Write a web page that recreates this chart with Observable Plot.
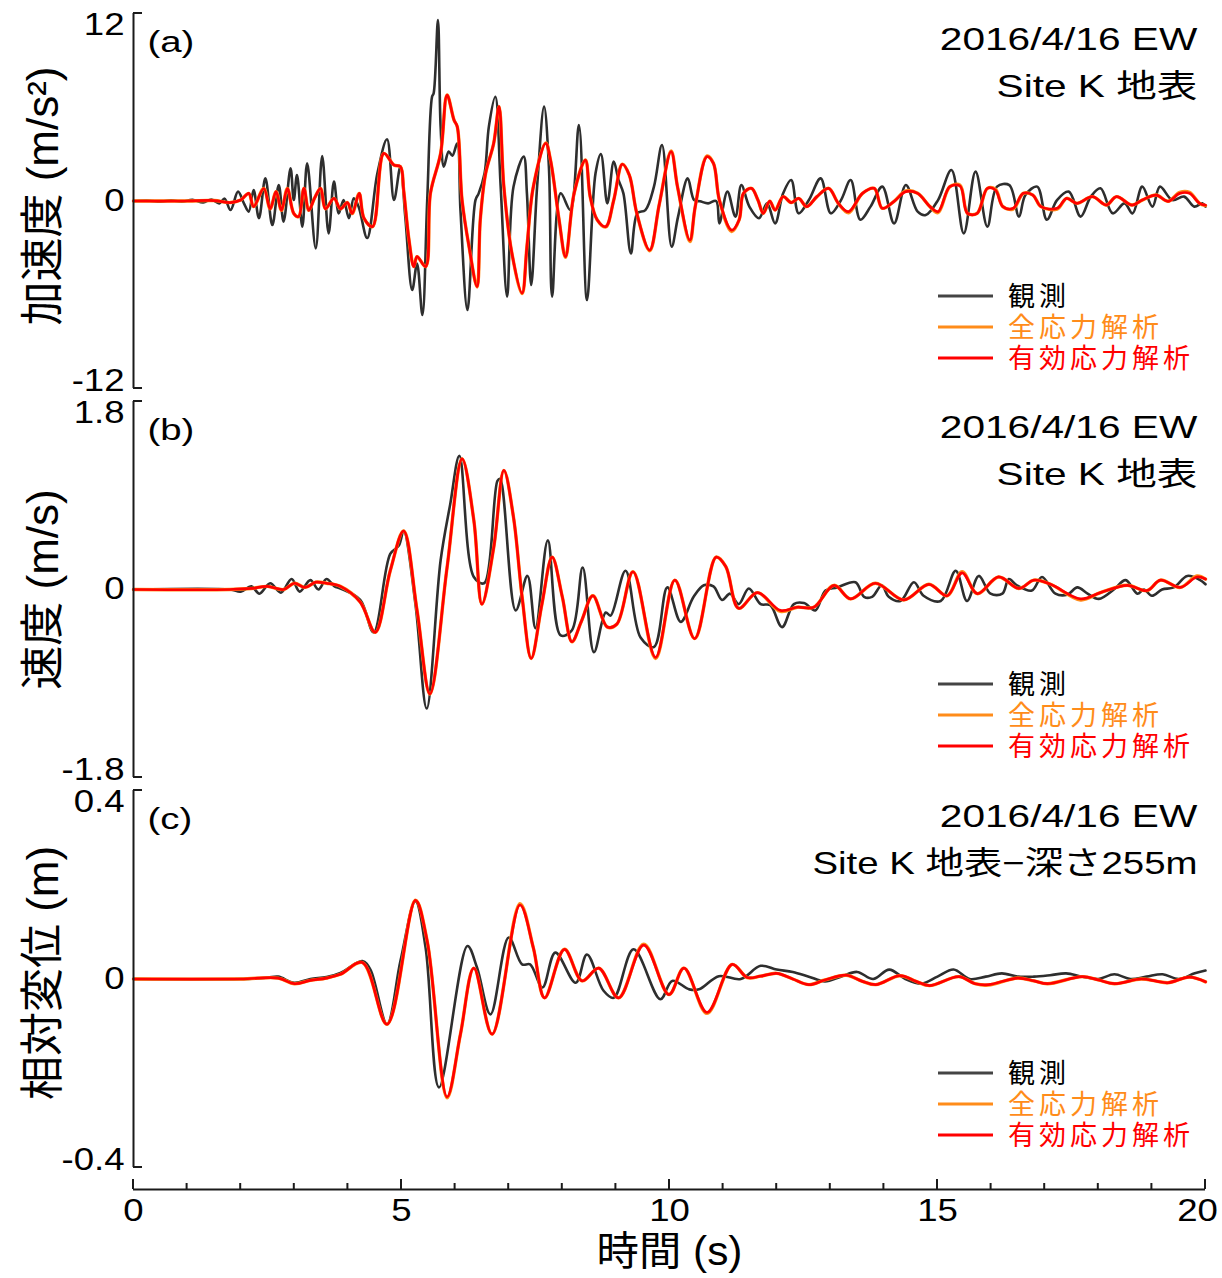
<!DOCTYPE html>
<html>
<head>
<meta charset="utf-8">
<script src="https://cdn.jsdelivr.net/npm/d3@7"></script>
<script src="https://cdn.jsdelivr.net/npm/@observablehq/plot@0.6"></script>
<style>
html, body { margin: 0; padding: 0; background: #fff; overflow: hidden; }
#chart svg { display: block; }
</style>
</head>
<body>
<div id="chart"></div>
<script>
// ---------- labels ----------
const seriesNames = ["観測", "全応力解析", "有効応力解析"];
const seriesColors = ["#2e2e2e", "#ff8c1a", "#ff0000"];
const panelLetters = ["(a)", "(b)", "(c)"];
const titleLine1 = ["2016/4/16 EW", "2016/4/16 EW", "2016/4/16 EW"];
const titleLine2 = ["Site K 地表", "Site K 地表", "Site K 地表\u2212深さ255m"];
const yLabels = ["加速度 (m/s²)", "速度 (m/s)", "相対変位 (m)"];
const yLimits = [12, 1.8, 0.4];
const yTickLabels = [["-12", "0", "12"], ["-1.8", "0", "1.8"], ["-0.4", "0", "0.4"]];
const xMajorTicks = [0, 5, 10, 15, 20];
const xMinorTicks = [0,1,2,3,4,5,6,7,8,9,10,11,12,13,14,15,16,17,18,19,20];
const xTickLabels = ["0", "5", "10", "15", "20"];
const xLabel = "時間 (s)";

// ---------- (a) acceleration ----------
const aObsT = [0,0.3,0.5,0.7,0.9, 1.1,1.3,1.45,1.6,1.7, 1.81,1.95,2.06,2.15,2.24, 2.34,2.46,2.59,2.71,2.80, 2.93,2.99,3.05,3.15,3.24, 3.40,3.52,3.64,3.74,3.83, 3.92,4.02,4.11,4.20,4.36, 4.55,4.73,4.86,4.98,5.07, 5.20,5.29,5.39,5.48,5.57, 5.60,5.68,5.73,5.79,5.88, 5.95,6.04,6.10,6.23,6.38, 6.44,6.55,6.63,6.75,6.85, 6.97,7.09,7.28,7.34,7.42, 7.53,7.66,7.75,7.81,7.97, 8.15,8.31,8.46,8.62,8.72, 8.84,8.96,9.05,9.14,9.28, 9.40,9.55,9.71,9.86,10.04, 10.16,10.34,10.46,10.57,10.72, 10.87,10.93,11.08,11.23,11.34, 11.49,11.67,11.82,11.97,12.12, 12.27,12.41,12.60,12.82,13.01, 13.20,13.38,13.56,13.75,13.97, 14.19,14.41,14.63,14.78,15.01, 15.26,15.49,15.71,15.93,16.11, 16.34,16.52,16.64,16.86,17.04, 17.23,17.45,17.67,17.86,18.04, 18.27,18.49,18.64,18.82,19.01, 19.15,19.38,19.60,19.79,19.94, 20.0];
const aObsV = [0,0.02,-0.05,0.05,-0.05, 0.08,-0.1,0.1,-0.15,0.15, -0.58,0.6,-0.15,-0.68,0.7, -1.1,1.45,-1.54,1.02,-1.32, 2.09,0.06,1.66,-1.64,2.41, -3.03,2.88,-2.07,1.24,-0.79, 0.06,-1.1,0.17,-0.36,-2.37, 1.77,3.95,0.06,2.2,-1.0, -5.7,-4.0,-7.3,0.06,6.67, 6.9,11.58,4.76,2.2,3.16, 2.9,3.69,-0.58,-6.98,0.06, 0.49,1.77,4.76,6.67,0.92, -6.12,0.92,2.84,0.49,-5.38, 0.92,6.04,2.2,-6.12,0.49, -0.58,4.86,-6.34,1.77,3.0, -0.15,2.52,1.34,0.49,-3.35, -0.79,-0.58,0.92,3.58,-2.92, -1.0,1.45,0.06,-0.02,-0.15, 0,-1.43,0.6,-1.0,1.02, -0.36,-1.1,-0.15,-1.43,0.49, 1.34,-0.79,0.06,1.45,-0.79, 0.06,1.34,-1.2,-0.36,0.92, -1.43,1.02,-0.68,-0.9,0.06, 1.98,-2.07,1.88,-1.64,0.92, 1.02,-1.0,0.38,0.92,-1.2, 0.06,0.6,-1.0,0.28,0.81, -0.79,-0.15,-0.79,0.92,-0.36, 0.92,0.06,0.28,-0.36,-0.15, -0.36];
const aEffT = [0,1.0,1.5,1.81,2.0, 2.15,2.24,2.43,2.55,2.66, 2.76,2.87,2.99,3.08,3.18, 3.27,3.38,3.49,3.58,3.74, 3.86,3.99,4.08,4.21,4.30, 4.46,4.67,4.86,4.98,5.04, 5.14,5.23,5.29,5.45,5.54, 5.73,5.85,5.98,6.04,6.13, 6.26,6.41,6.47,6.57,6.72, 6.82,6.91,7.06,7.25,7.34, 7.46,7.69,7.78,7.94,8.06, 8.22,8.43,8.52,8.65,8.81, 8.96,9.12,9.25,9.39,9.63, 9.81,10.03,10.15,10.38,10.48, 10.70,10.82,10.93,11.16,11.30, 11.38,11.53,11.65,11.75,11.87, 11.97,12.12,12.27,12.41,12.56, 12.75,12.97,13.15,13.34,13.60, 13.82,13.97,14.19,14.41,14.63, 14.86,15.01,15.23,15.42,15.56, 15.74,15.93,16.08,16.22,16.41, 16.60,16.78,16.93,17.23,17.41, 17.60,17.89,18.15,18.34,18.63, 18.82,19.08,19.30,19.52,19.70, 19.89,20.0];
const aEffV = [0,0,0.03,-0.1,0.06, 0.49,-0.36,0.8,-0.5,0.6, -0.6,0.8,-0.8,-1.0,0.81, -0.6,0.2,0.81,-0.5,0.17, -0.5,-0.1,-0.8,0.49,-1.1, -1.64,3.05,2.3,2.2,0.7, -2.5,-4.2,-3.56,-4.2,0.49, 3.05,6.78,5.18,4.76,0.06, -2.92,-5.48,-1.2,1.77,3.69, 6.04,0.92,-3.35,-5.9,-2.92, 0.92,3.69,2.62,-1.2,-3.56, 0.49,2.62,0.28,-1.2,-1.64, 0.06,2.35,1.66,-0.79,-3.14, -0.2,3.16,0.9,-2.5,-0.36, 2.84,2.41,0.06,-1.86,-1.2, 0.49,0.81,0.06,-0.79,-0.01, -0.58,0.28,-0.1,0.17,-0.36, 0.28,0.81,-0.15,-0.68,0.49, 0.81,-0.47,-0.02,0.6,0.49, -0.36,-0.68,0.92,0.96,-0.79, -0.79,0.81,0.7,-0.36,-0.47, 0.49,0.38,-0.36,-0.47,0.17, -0.15,0.28,-0.26,0.28,-0.26, 0.06,0.38,-0.02,0.49,0.49, -0.15,-0.26];
const aTotV = [0,0,0.03,-0.1,0.06, 0.49,-0.36,0.8,-0.5,0.6, -0.6,0.8,-0.8,-1.0,0.81, -0.6,0.2,0.81,-0.5,0.17, -0.5,-0.1,-0.8,0.49,-1.1, -1.64,3.05,2.3,2.2,0.7, -2.5,-4.2,-3.56,-4.2,0.49, 3.05,6.78,5.18,4.76,0.06, -2.92,-5.5,-1.2,1.77,3.69, 6.04,0.92,-3.35,-5.92,-2.92, 0.92,3.72,2.62,-1.2,-3.6, 0.49,2.62,0.28,-1.2,-1.66, 0.06,2.35,1.66,-0.79,-3.18, -0.2,3.2,0.9,-2.6,-0.36, 2.88,2.41,0.06,-1.95,-1.2, 0.49,0.81,0.06,-0.79,-0.01, -0.58,0.28,-0.1,0.17,-0.36, 0.28,0.81,-0.15,-0.75,0.49, 0.81,-0.47,-0.02,0.65,0.49, -0.36,-0.75,0.92,1.02,-0.79, -0.79,0.81,0.76,-0.36,-0.52, 0.49,0.38,-0.36,-0.52,0.17, -0.15,0.28,-0.26,0.28,-0.26, 0.06,0.38,-0.02,0.55,0.55, -0.15,-0.3];

// ---------- (b) velocity ----------
const bObsT = [0,1.8,2.0,2.2,2.35, 2.55,2.75,2.95,3.1,3.3, 3.45,3.6,3.75,3.86,4.23, 4.48,4.79,4.95,5.04,5.26, 5.47,5.73,5.91,6.08,6.35, 6.54,6.79,6.84,7.13,7.35, 7.50,7.73,7.97,8.18,8.38, 8.59,8.81,8.90,9.18,9.46, 9.71,9.96,10.21,10.45,10.64, 10.82,10.98,11.13,11.29,11.48, 11.70,11.88,12.10,12.32,12.51, 12.72,12.91,13.13,13.47,13.63, 13.78,13.96,14.09,14.31,14.56, 14.74,15.06,15.34,15.55,15.77, 15.99,16.21,16.33,16.48,16.76, 16.95,17.20,17.42,17.61,17.80, 18.01,18.29,18.51,18.73,18.85, 19.00,19.19,19.41,19.66,19.90, 20.0];
const bObsV = [0,0,-0.02,0.03,-0.04, 0.06,-0.03,0.1,-0.02,0.09, 0.0,0.1,0.03,0.01,-0.1, -0.41,0.34,0.42,0.56,-0.14, -1.14,0.28,0.82,1.28,0.12, 0.06,1.04,1.06,-0.2,0.13, -0.37,0.47,-0.44,-0.39,0.21, -0.6,-0.22,-0.25,0.18,-0.46, -0.55,0.02,-0.31,-0.07,0.04, 0.03,-0.10,-0.04,-0.14,0.01, -0.14,-0.15,-0.36,-0.14,-0.13, -0.2,-0.01,0.02,0.07,-0.07, -0.07,0.04,-0.07,-0.11,0.07, -0.06,-0.11,0.18,-0.11,0.13, -0.04,-0.04,0.1,0.04,-0.01, 0.12,-0.04,-0.05,0.02,-0.04, -0.09,0.0,0.09,-0.04,0.0, -0.06,0.0,0.02,0.13,0.09, 0.05];
const bEffT = [0,1.8,2.2,2.5,2.8, 3.0,3.2,3.4,3.6,3.86, 4.23,4.51,4.79,5.04,5.29, 5.53,5.85,6.13,6.35,6.50, 6.72,6.91,7.09,7.25,7.42, 7.62,7.81,8.00,8.18,8.36, 8.57,8.84,9.02,9.32,9.74, 10.10,10.47,10.87,11.05,11.29, 11.64,12.07,12.38,12.69,13.07, 13.38,13.84,14.37,14.84,15.18, 15.46,15.74,16.14,16.52,16.80, 17.11,17.67,18.04,18.54,18.91, 19.16,19.53,19.84,20.0];
const bEffV = [0,0,0.01,0.03,0.0, 0.06,0.02,0.07,0.06,0.03, -0.12,-0.41,0.18,0.56,-0.2, -1.0,0.21,1.25,0.66,-0.14, 0.4,1.14,0.69,-0.07,-0.66, -0.14,0.31,-0.07,-0.5,-0.30, -0.06,-0.36,-0.33,0.17,-0.65, 0.09,-0.47,0.31,0.22,-0.18, -0.03,-0.2,-0.17,-0.17,0.04, -0.09,0.06,-0.1,0.05,-0.06, 0.16,-0.04,0.12,0.01,0.09, 0.05,-0.09,-0.03,0.04,-0.01, 0.09,0.02,0.12,0.1];
const bTotV = [0,0,0.01,0.03,0.0, 0.06,0.02,0.07,0.06,0.03, -0.12,-0.41,0.18,0.56,-0.2, -1.0,0.21,1.25,0.66,-0.14, 0.4,1.14,0.69,-0.07,-0.66, -0.14,0.31,-0.07,-0.5,-0.30, -0.06,-0.36,-0.33,0.17,-0.66, 0.09,-0.47,0.31,0.22,-0.18, -0.03,-0.21,-0.17,-0.17,0.04, -0.09,0.06,-0.1,0.05,-0.06, 0.17,-0.04,0.12,0.01,0.09, 0.05,-0.1,-0.03,0.04,-0.01, 0.09,0.02,0.13,0.1];

// ---------- (c) relative displacement ----------
const cObsT = [0,2.0,2.5,2.7,3.0, 3.3,3.6,3.86,4.27,4.42, 4.73,4.98,5.26,5.45,5.70, 6.23,6.41,6.66,7.00, 7.25,7.40,7.63,7.87,8.25, 8.46,8.77,8.96,9.33,9.83, 10.05,10.37,10.55,10.92,11.33, 11.70,12.0,12.3,12.6,12.9, 13.2,13.5,13.8,14.1,14.4, 14.7,15.0,15.3,15.6,15.9, 16.2,16.5,16.8,17.1,17.4, 17.7,18.0,18.3,18.6,18.9, 19.2,19.5,19.8,20.0];
const cObsV = [0,0,0.003,0.005,-0.008, 0.0,0.004,0.013,0.038,0.02, -0.096,0.038,0.165,0.066,-0.23, 0.07,0.024,-0.075,0.088, 0.031,0.031,-0.018,0.056,-0.008, 0.052,-0.025,-0.04,0.063,-0.043, -0.004,-0.022,-0.022,0.006,0.0, 0.028,0.02,0.015,0.005,-0.005, 0.005,0.015,0.0,0.02,0.0, -0.01,0.005,0.02,0.0,0.005, 0.012,0.005,0.005,0.008,0.012, 0.005,0.0,0.01,0.0,0.005, 0.01,0.0,0.012,0.018];
const cEffT = [0,2.0,2.7,3.0,3.3, 3.6,3.86,4.27,4.73,5.26, 5.48,5.85,6.10,6.35,6.69, 7.21,7.46,7.67,8.04,8.37, 8.68,9.05,9.52,9.99,10.27, 10.70,11.17,11.45,11.70,12.0, 12.3,12.6,12.9,13.3,13.6, 13.85,14.3,14.6,14.85,15.4, 15.7,15.95,16.5,16.8,17.05, 17.7,18.0,18.3,18.8,19.1, 19.3,19.7,20.0];
const cEffV = [0,0,0.002,-0.01,-0.003, 0.002,0.01,0.035,-0.096,0.167, 0.08,-0.25,-0.117,0.023,-0.117, 0.157,0.066,-0.04,0.063,-0.004, 0.023,-0.04,0.072,-0.033,0.023, -0.071,0.031,0.003,0.006,0.012, 0.0,-0.012,-0.002,0.008,-0.005, -0.012,0.007,-0.005,-0.014,0.005, -0.01,-0.012,0.002,-0.004,-0.010, 0.005,-0.002,-0.01,0.0,-0.005, -0.008,0.004,-0.006];
const cTotV = [0,0,0.002,-0.01,-0.003, 0.002,0.01,0.035,-0.096,0.167, 0.08,-0.252,-0.117,0.023,-0.117, 0.16,0.066,-0.04,0.063,-0.004, 0.023,-0.04,0.074,-0.033,0.023, -0.073,0.031,0.003,0.006,0.012, 0.0,-0.012,-0.002,0.008,-0.005, -0.012,0.007,-0.005,-0.014,0.005, -0.01,-0.013,0.002,-0.004,-0.010, 0.005,-0.002,-0.01,0.0,-0.005, -0.008,0.004,-0.006];

// ---------- build ----------
const FONT = "'Liberation Sans', Arial, 'Noto Sans CJK JP', sans-serif";
const CJK = "'Noto Sans CJK JP', 'Liberation Sans', sans-serif";
const AXIS = "#1a1a1a";
const SVGNS = "http://www.w3.org/2000/svg";
const rows = (T, V) => T.map((t, i) => ({t, v: V[i]}));

const panelData = [
  [rows(aObsT, aObsV), rows(aEffT, aTotV), rows(aEffT, aEffV)],
  [rows(bObsT, bObsV), rows(bEffT, bTotV), rows(bEffT, bEffV)],
  [rows(cObsT, cObsV), rows(cEffT, cTotV), rows(cEffT, cEffV)]
];
const layout = [
  {height: 395, mt: 13, mb: 7, labelDy: -5},
  {height: 390, mt: 6, mb: 8, labelDy: 0},
  {height: 493, mt: 5, mb: 111, labelDy: -6}
];

// horizontal widening of the Latin-heavy labels (the reference uses a wide face)
const stretchFor = new Map();
yTickLabels.flat().forEach(s => stretchFor.set(s, 1.18));
xTickLabels.forEach(s => stretchFor.set(s, 1.18));
titleLine1.forEach(s => stretchFor.set(s, 1.27));
titleLine2.forEach(s => stretchFor.set(s, s.length > 10 ? 1.2 : 1.27));
panelLetters.forEach(s => stretchFor.set(s, 1.28));
stretchFor.set(xLabel, 1.06);

// must run after the svg is in the document
function stretchTexts(svg) {
  const svgRect = svg.getBoundingClientRect();
  svg.querySelectorAll("text").forEach(t => {
    const s = stretchFor.get(t.textContent);
    if (!s) return;
    const r = t.getBoundingClientRect();
    const anchor = getComputedStyle(t).textAnchor;
    const ax = anchor === "end" ? r.right : anchor === "middle" ? (r.left + r.right) / 2 : r.left;
    const w = document.createElementNS(SVGNS, "g");
    t.parentNode.insertBefore(w, t);
    w.appendChild(t);
    const m = w.getCTM();
    const axLocal = (ax - svgRect.left - (m ? m.e : 0)) / (m ? m.a : 1);
    w.setAttribute("transform", `translate(${axLocal},0) scale(${s},1) translate(${-axLocal},0)`);
  });
}

const yEndTicks = (lim) => (index, scales, values, dims) => {
  const g = d3.create("svg:g").attr("stroke", AXIS).attr("stroke-width", 2).attr("fill", "none");
  for (const v of [-lim, lim]) {
    const y = scales.y(v);
    g.append("line").attr("x1", dims.marginLeft).attr("x2", dims.marginLeft + 9).attr("y1", y).attr("y2", y);
  }
  return g.node();
};

const legendMark = (index, scales, values, dims) => {
  const g = d3.create("svg:g").attr("text-anchor", "start");
  const rowsY = [283, 314, 345];
  seriesNames.forEach((name, k) => {
    const y = dims.marginTop + rowsY[k];
    g.append("line").attr("x1", 938).attr("x2", 993).attr("y1", y).attr("y2", y)
      .attr("stroke", k === 0 ? "#444" : seriesColors[k]).attr("stroke-width", 3);
    g.append("text").attr("x", 1008).attr("y", y).attr("dy", "0.36em")
      .attr("text-anchor", "start")
      .attr("fill", k === 0 ? "#000" : seriesColors[k])
      .attr("font-family", CJK).attr("font-size", 27).attr("letter-spacing", 4)
      .text(name);
  });
  return g.node();
};

const xAxisTicks = (index, scales, values, dims) => {
  const g = d3.create("svg:g").attr("stroke", AXIS).attr("stroke-width", 2);
  const y0 = dims.height - dims.marginBottom + 22;
  for (const t of xMinorTicks) {
    const len = xMajorTicks.includes(t) ? 10 : 6;
    g.append("line").attr("x1", scales.x(t)).attr("x2", scales.x(t)).attr("y1", y0).attr("y2", y0 - len);
  }
  return g.node();
};

const container = document.getElementById("chart");

for (let i = 0; i < 3; i++) {
  const L = layout[i], lim = yLimits[i];
  const widths = [2.6, 3.4, 2.7];
  const marks = [];
  panelData[i].forEach((data, k) => {
    marks.push(Plot.line(data, {x: "t", y: "v", stroke: seriesColors[k], strokeWidth: widths[k], curve: "catmull-rom", strokeLinejoin: "round"}));
  });
  marks.push(Plot.ruleX([0], {stroke: AXIS, strokeWidth: 2}));
  marks.push(yEndTicks(lim));
  const tickText = {frameAnchor: "left", textAnchor: "end", dx: -9, fontSize: 31, fontFamily: FONT, fill: "#000", lineAnchor: "middle"};
  marks.push(Plot.text([lim], {...tickText, y: d => d, text: () => yTickLabels[i][2], dy: 12}));
  marks.push(Plot.text([0], {...tickText, y: d => d, text: () => yTickLabels[i][1], dy: 0}));
  marks.push(Plot.text([-lim], {...tickText, y: d => d, text: () => yTickLabels[i][0], dy: -7}));
  marks.push(Plot.text([yLabels[i]], {text: d => d, frameAnchor: "left", dx: -90, dy: L.labelDy, rotate: -90, fontSize: 44, fontFamily: FONT, fill: "#000", textAnchor: "middle", lineAnchor: "middle"}));
  marks.push(Plot.text([panelLetters[i]], {text: d => d, frameAnchor: "top-left", dx: 14, dy: 29, textAnchor: "start", lineAnchor: "middle", fontSize: 30, fontFamily: FONT, fill: "#000"}));
  marks.push(Plot.text([titleLine1[i]], {text: d => d, frameAnchor: "top-right", dx: -8, dy: 26, textAnchor: "end", lineAnchor: "middle", fontSize: 32, fontFamily: FONT, fill: "#000"}));
  marks.push(Plot.text([titleLine2[i]], {text: d => d, frameAnchor: "top-right", dx: -8, dy: 73, textAnchor: "end", lineAnchor: "middle", fontSize: 32, fontFamily: FONT, fill: "#000"}));
  marks.push(legendMark);
  if (i === 2) {
    const xt = {frameAnchor: "bottom", dy: 44, lineAnchor: "middle", fontSize: 31, fontFamily: FONT, fill: "#000"};
    marks.push(Plot.ruleY([-lim], {dy: 22, stroke: AXIS, strokeWidth: 2}));
    marks.push(xAxisTicks);
    marks.push(Plot.text(xMajorTicks.slice(0, 4), {...xt, x: d => d, text: (d, j) => xTickLabels[j]}));
    marks.push(Plot.text(xMajorTicks.slice(4), {...xt, x: d => d, text: () => xTickLabels[4], dx: -8}));
    marks.push(Plot.text([xLabel], {text: d => d, frameAnchor: "bottom", dy: 85, lineAnchor: "middle", fontSize: 40, fontFamily: FONT, fill: "#000"}));
  }
  const svg = Plot.plot({
    width: 1222, height: L.height,
    marginLeft: 133, marginRight: 17, marginTop: L.mt, marginBottom: L.mb,
    x: {domain: [0, 20], axis: null},
    y: {domain: [-lim, lim], axis: null},
    style: {fontFamily: FONT, background: "white", overflow: "visible"},
    marks
  });
  container.appendChild(svg);
  stretchTexts(svg);
}
</script>
</body>
</html>
